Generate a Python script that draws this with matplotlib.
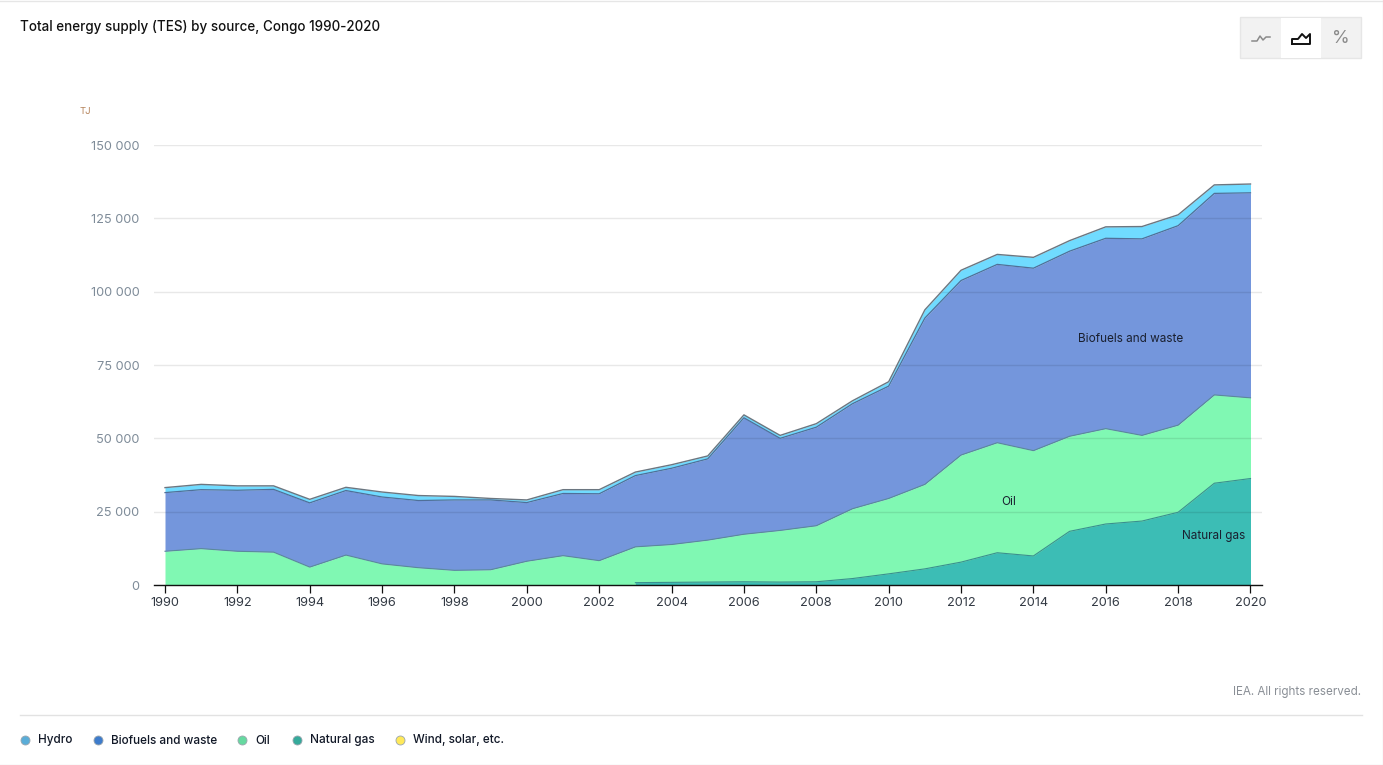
import numpy as np
import matplotlib
matplotlib.use("Agg")
import matplotlib.pyplot as plt
from matplotlib.patches import Rectangle

plt.rcParams['font.family'] = ['Inter', 'DejaVu Sans']

W, H = 1383, 765
years = list(range(1990, 2021))
natural_gas = [np.nan]*13 + [800, 900, 1000, 1100, 1000, 1100, 2200, 3800, 5500, 7800, 11000, 9900,
                             18300, 20800, 21800, 24800, 34700, 36300]
oil = [11500, 12400, 11500, 11200, 6100, 10200, 7200, 5900, 5000, 5200, 8100, 10000, 8300,
       12200, 12900, 14300, 16200, 17600, 19100, 23800, 25700, 28800, 36500, 37500, 35900,
       32400, 32500, 29200, 29700, 30100, 27500]
biofuels = [20000, 20100, 20800, 21400, 21900, 22000, 22800, 22900, 24000, 23800, 20000, 21200, 22800,
            24300, 26000, 27700, 39700, 31400, 33600, 35800, 38300, 56700, 59500, 60800, 62200,
            63100, 64900, 67000, 68000, 68700, 69900]
hydro = [1700, 1800, 1500, 1200, 1200, 1100, 1700, 1700, 1200, 500, 900, 1300, 1400,
         1200, 1200, 1000, 1000, 1000, 1200, 1000, 1500, 2800, 3500, 3400, 3700,
         3600, 3900, 4200, 3700, 2900, 3000]
y_ticks = [0, 25000, 50000, 75000, 100000, 125000, 150000]
y_labels = ['0', '25 000', '50 000', '75 000', '100 000', '125 000', '150 000']
x_ticks = years[::2]
legend_names = ['Hydro', 'Biofuels and waste', 'Oil', 'Natural gas', 'Wind, solar, etc.']
legend_colors = ['#5AADD8', '#3E7CCC', '#66D9A0', '#35AA9B', '#FFE95A']
legend_x = [25, 98, 242, 297, 400]

fig = plt.figure(figsize=(W/100, H/100), dpi=100, facecolor='white')
ax = fig.add_axes([154/W, 1-585/H, (1262-154)/W, 440/H])

x = np.array(years)
gas = np.array(natural_gas, float)
g0 = np.nan_to_num(gas)
t_oil = g0 + np.array(oil)
t_bio = t_oil + np.array(biofuels)
t_hyd = t_bio + np.array(hydro)
ax.fill_between(x, t_bio, t_hyd, color='#70DBFF', lw=0, zorder=2)
ax.fill_between(x, t_oil, t_bio, color='#7496DC', lw=0, zorder=2)
ax.fill_between(x, 0, t_oil, color='#80F8B3', lw=0, zorder=2)
ax.fill_between(x, 0, gas, color='#3CBDB5', lw=0, zorder=2.1)
for top_line, c, lw in [(t_hyd, '#6b7680', 1.0), (t_bio, '#4f6f99', 0.9), (t_oil, '#5a8a9a', 0.8), (gas, '#3a8f8f', 0.8)]:
    ax.plot(x, top_line, color=c, lw=lw, zorder=3)

ax.set_xlim(1990 - 11/36.18, 2020 + 11.5/36.18)
ax.set_ylim(0, 150000)
ax.set_yticks(y_ticks)
ax.set_yticklabels(y_labels)
ax.set_xticks(x_ticks)
ax.set_axisbelow(False)
ax.grid(axis='y', color='black', alpha=0.09, lw=1, zorder=4)
for s in ['top', 'left', 'right']:
    ax.spines[s].set_visible(False)
ax.spines['bottom'].set_color('#111111')
ax.spines['bottom'].set_linewidth(1.0)
ax.spines['bottom'].set_zorder(5)
ax.tick_params(axis='y', length=0, pad=10.5, labelsize=9.2, labelcolor='#7f8c99')
ax.tick_params(axis='x', length=6, width=0.9, color='#111111', pad=2.5, labelsize=9.2, labelcolor='#333a44')
ax.patch.set_alpha(0)
ax.text(2015.22, 84000, 'Biofuels and waste', fontsize=8.45, color='#1a2030', va='center', ha='left', zorder=6)
ax.text(2013.1, 28300, 'Oil', fontsize=8.45, color='#1a2030', va='center', ha='left', zorder=6)
ax.text(2018.12, 16700, 'Natural gas', fontsize=8.45, color='#1a2030', va='center', ha='left', zorder=6)

# page furniture, in pixel coordinates
top = fig.add_axes([0, 0, 1, 1], zorder=5)
top.set_xlim(0, W); top.set_ylim(H, 0); top.axis('off'); top.patch.set_alpha(0)
top.text(20, 26.5, 'Total energy supply (TES) by source, Congo 1990-2020', fontsize=9.67, color='#111111', va='center', fontweight='medium')
top.text(79.5, 111, 'TJ', fontsize=6.9, color='#b5835a', va='center')
top.text(1361, 691.5, 'IEA. All rights reserved.', fontsize=8.4, color='#8a8f96', va='center', ha='right')
top.plot([20, 1362], [714.9, 714.9], color='#e2e2e2', lw=1)
top.plot([0, W], [0.5, 0.5], color='#e6e6e6', lw=1)
top.plot([0, W], [764.5, 764.5], color='#e6e6e6', lw=1)
top.plot([W-0.5, W-0.5], [0, H], color='#e6e6e6', lw=1)
for name, c, lx in zip(legend_names, legend_colors, legend_x):
    top.scatter([lx], [740], s=42, color=c, edgecolors='#9aa5ad', linewidths=0.6, zorder=5)
    top.text(lx + 13, 740.5, name, fontsize=8.45, color='#111827', va='center', fontweight='medium')

# chart type switch
top.add_patch(Rectangle((1240, 17), 121, 41, fc='#f2f2f2', ec='#e6e6e6', lw=1))
top.add_patch(Rectangle((1281, 17.5), 40, 40, fc='white', ec='none'))
top.plot([1252, 1257, 1260, 1263, 1266, 1270], [41, 41, 36, 40, 37, 37], color='#8a8a8a', lw=1.1)
top.plot([1292, 1292, 1298, 1302, 1306, 1310, 1310, 1292], [44, 39, 39, 34, 38, 34, 44, 44], color='#111111', lw=1.4)
top.text(1340.5, 38.5, '%', fontsize=13, color='#8a8a8a', ha='center', va='center')

fig.savefig('out.png', dpi=100)
